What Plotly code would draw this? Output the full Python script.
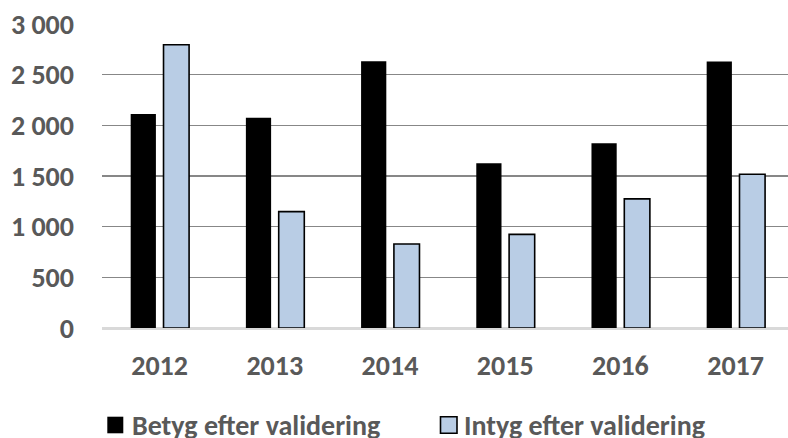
import plotly.graph_objects as go

years = ["2012", "2013", "2014", "2015", "2016", "2017"]
betyg = [2113, 2076, 2632, 1625, 1823, 2629]
intyg = [2795, 1148, 829, 924, 1274, 1517]
series_names = ["Betyg efter validering", "Intyg efter validering"]
y_ticks = [0, 500, 1000, 1500, 2000, 2500, 3000]

W, H = 788, 438
ML, MR, MT, MB = 102, 0, 24, 110
PW, PH = W - ML - MR, H - MT - MB

FONT = "Carlito, Calibri, 'Open Sans', sans-serif"
FS = 28
GRAY = "#595959"
BLUE = "#B9CDE5"

fig = go.Figure()
fig.add_trace(go.Bar(
    x=list(range(len(years))), y=betyg, name=series_names[0],
    marker=dict(color="black", line=dict(width=0)),
    width=0.219, offset=-0.251, showlegend=False,
))
fig.add_trace(go.Bar(
    x=list(range(len(years))), y=intyg, name=series_names[1],
    marker=dict(color=BLUE, line=dict(color="black", width=1.6)),
    width=0.222, offset=0.034, showlegend=False,
))


def px2paper(px, py):
    return (px - ML) / PW, (H - MB - py) / PH


# custom legend (symbols + labels)
legend_items = [
    (107.3, 123.3, "black", 0, series_names[0], 130),
    (440.5, 457.0, BLUE, 1.6, series_names[1], 462),
]
for x0p, x1p, col, lw, label, tx in legend_items:
    x0, y0 = px2paper(x0p, 433.3)
    x1, y1 = px2paper(x1p, 416.7)
    fig.add_shape(type="rect", xref="paper", yref="paper",
                  x0=x0, x1=x1, y0=y0, y1=y1,
                  fillcolor=col, line=dict(color="black", width=lw))
    ax, ay = px2paper(tx, 425)
    fig.add_annotation(xref="paper", yref="paper", x=ax, y=ay,
                       xanchor="left", yanchor="middle", showarrow=False,
                       text=label,
                       font=dict(family=FONT, size=FS, color=GRAY, weight="bold"))

fig.update_layout(
    width=W, height=H,
    margin=dict(l=ML, r=MR, t=MT, b=MB, pad=0),
    paper_bgcolor="white", plot_bgcolor="white",
    barmode="overlay",
    separators=", ",
    font=dict(family=FONT, size=FS, color=GRAY),
    xaxis=dict(
        range=[-0.5, 5.455],
        tickvals=list(range(len(years))), ticktext=years,
        showgrid=False, zeroline=False,
        showline=True, linecolor="#D9D9D9", linewidth=1.5,
        ticks="", ticklabelstandoff=12,
        tickfont=dict(family=FONT, size=FS, color=GRAY, weight="bold"),
    ),
    yaxis=dict(
        range=[0, 3000], tickvals=y_ticks, tickformat=",d",
        showgrid=True, gridcolor="#878787", gridwidth=1.6,
        zeroline=True, zerolinecolor="#D9D9D9", zerolinewidth=1.5,
        showline=False, ticks="", ticklabelstandoff=27,
        tickfont=dict(family=FONT, size=FS, color=GRAY, weight="bold"),
    ),
)

fig.write_html("out.html", config={"displayModeBar": False, "staticPlot": True})

# remove the default browser body margin so the figure sits at the page origin
with open("out.html", encoding="utf-8") as f:
    html = f.read()
html = html.replace("<head>", "<head><style>html,body{margin:0;padding:0;overflow:hidden;}</style>", 1)
with open("out.html", "w", encoding="utf-8") as f:
    f.write(html)
